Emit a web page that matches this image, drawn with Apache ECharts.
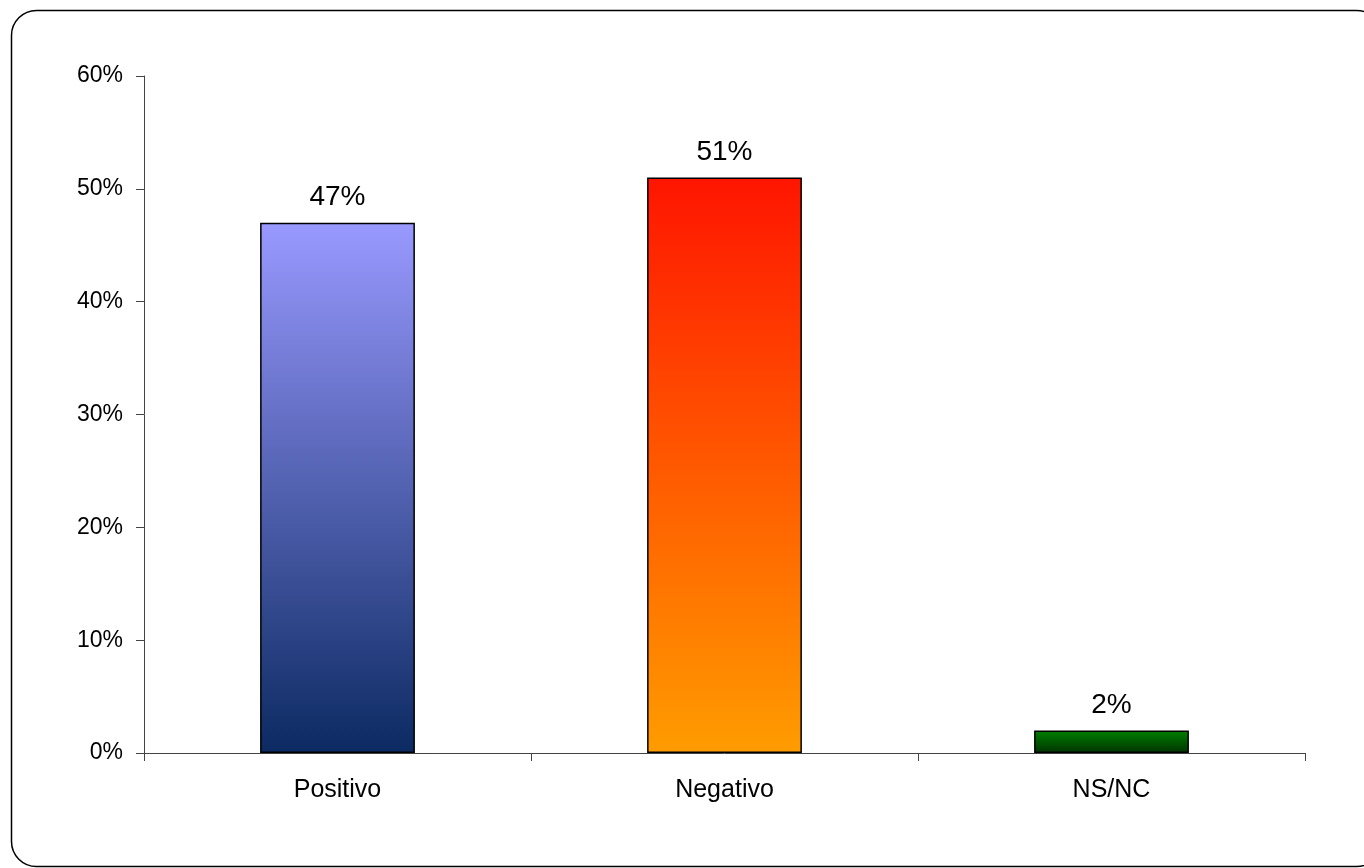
<!DOCTYPE html>
<html><head><meta charset="utf-8">
<script src="https://cdn.jsdelivr.net/npm/echarts@6/dist/echarts.min.js"></script>
<style>html,body{margin:0;padding:0;background:#fff}#c{width:1364px;height:868px}</style>
</head><body><div id="c"></div>
<script>
const categories = ['Positivo', 'Negativo', 'NS/NC'];
const values = [0.47, 0.51, 0.02];
const yTicks = [0, 0.1, 0.2, 0.3, 0.4, 0.5, 0.6];
const gradients = [
  ['#9999ff', '#0c2a62'],
  ['#ff1500', '#ff9c00'],
  ['#008000', '#003300']
];
const chart = echarts.init(document.getElementById('c'));
const pct = v => Math.round(v * 100) + '%';
chart.setOption({
  animation: false,
  backgroundColor: '#fff',
  graphic: [{
    type: 'rect', z: -1,
    shape: { x: 11.5, y: 10.5, width: 1370, height: 856, r: 25 },
    style: { fill: 'none', stroke: '#000', lineWidth: 1.5 }
  }],
  grid: { left: 144, right: 59, top: 76, bottom: 115 },
  xAxis: {
    type: 'category', data: categories,
    axisLine: { lineStyle: { color: '#444', width: 1 } },
    axisTick: { show: true, length: 8, lineStyle: { color: '#444' } },
    axisLabel: { color: '#000', fontFamily: 'Liberation Sans, Arial', fontSize: 25, margin: 25 }
  },
  yAxis: {
    type: 'value', min: yTicks[0], max: yTicks[yTicks.length - 1], interval: 0.1,
    splitLine: { show: false },
    axisLine: { show: true, lineStyle: { color: '#444', width: 1 } },
    axisTick: { show: true, length: 8, lineStyle: { color: '#444' } },
    axisLabel: { color: '#000', fontFamily: 'Liberation Sans, Arial', fontSize: 23, margin: 21, formatter: pct }
  },
  series: [{
    type: 'bar',
    barWidth: '40%',
    data: values.map((v, i) => ({
      value: v,
      itemStyle: {
        color: new echarts.graphic.LinearGradient(0, 0, 0, 1, [
          { offset: 0, color: gradients[i][0] },
          { offset: 1, color: gradients[i][1] }
        ]),
        borderColor: '#000', borderWidth: 1.5
      }
    })),
    label: {
      show: true, position: 'top', distance: 11,
      color: '#000', fontFamily: 'Liberation Sans, Arial', fontSize: 28,
      formatter: p => pct(p.value)
    }
  }]
});
</script></body></html>
